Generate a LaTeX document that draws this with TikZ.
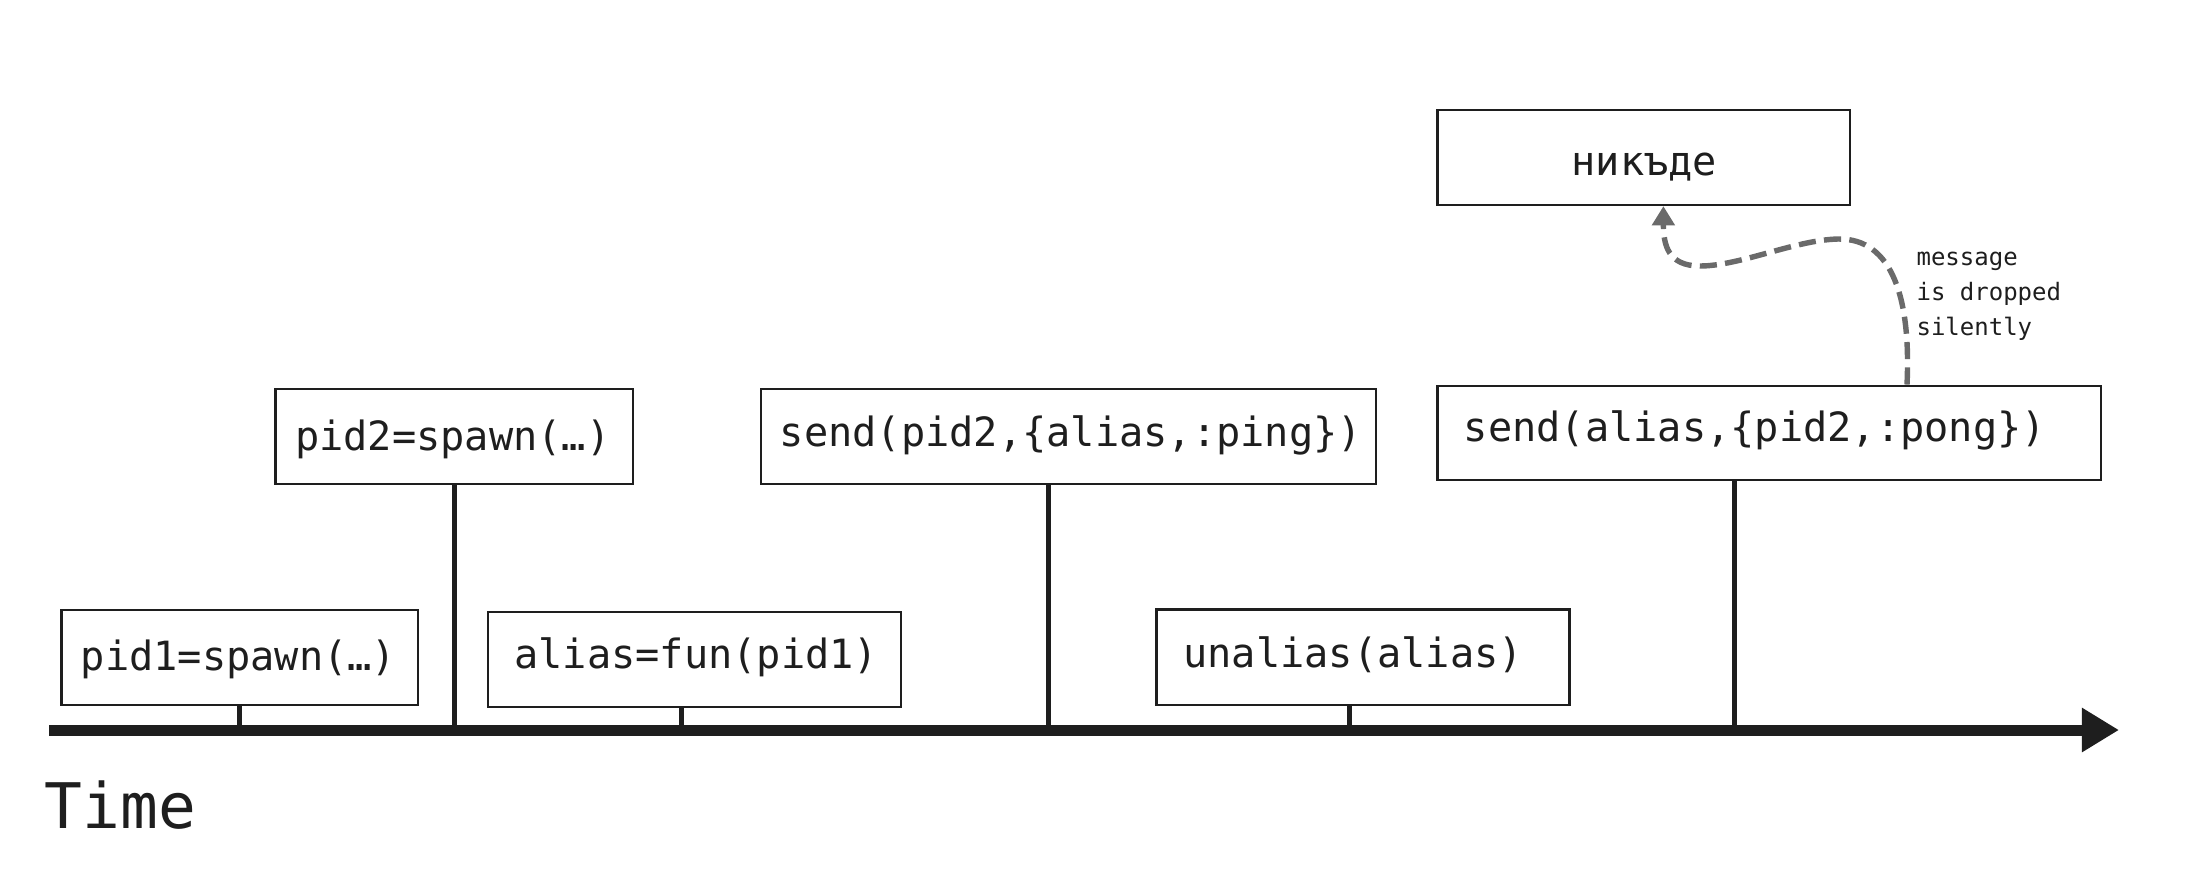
\documentclass[tikz,border=0pt]{standalone}
\usepackage{fontspec}
\setmonofont{DejaVu Sans Mono}
\usetikzlibrary{arrows.meta,fit}
\definecolor{ink}{HTML}{1E1E1E}
\definecolor{msggray}{HTML}{6A6A6A}
\begin{document}
\begin{tikzpicture}[x=0.35pt,y=-0.35pt,
  box/.style={draw=ink,line width=0.8pt,inner sep=0pt},
  lbl/.style={anchor=base,inner sep=0pt,text=ink,font=\ttfamily\fontsize{14.1}{17}\selectfont},
  tickline/.style={draw=ink,line width=1.75pt},
  axisline/.style={draw=ink,line width=3.85pt,-{Triangle[length=13pt,width=14.7pt]}},
  msgline/.style={draw=msggray,line width=1.9pt,dash pattern=on 6pt off 2.9pt,-{Triangle[length=6.7pt,width=7.7pt]}},
  note/.style={anchor=base west,inner sep=0pt,align=left,text=ink,font=\ttfamily\fontsize{8.4}{12.25}\selectfont}]
\useasboundingbox (0,0) rectangle (2208,870);
% axis
\coordinate (axL) at (49,730);
\coordinate (axR) at (2119,730);
% tick positions on the axis
\coordinate (k1) at (239.7,730);
\coordinate (k2) at (454.3,730);
\coordinate (k3) at (681.6,730);
\coordinate (k4) at (1048,730);
\coordinate (k5) at (1349.8,730);
\coordinate (k6) at (1734.5,730);
% boxes
\node[box,fit={(61.6,609.7) (418.3,705)}] (b1) {};
\node[box,fit={(275.4,389) (632.8,484)}] (b2) {};
\node[box,fit={(487.8,612.3) (900.7,706.7)}] (b3) {};
\node[box,fit={(761,389) (1376,484)}] (b4) {};
\node[box,fit={(1156.5,609.5) (1569.5,705)}] (b5) {};
\node[box,fit={(1437.5,385.7) (2101,480)}] (b6) {};
\node[box,fit={(1437.5,109.7) (1850,205)}] (b7) {};
% texts
\node[lbl] (t1) at (238.4,670) {pid1=spawn(…)};
\node[lbl] (t2) at (452.7,450) {pid2=spawn(…)};
\node[lbl] (t3) at (696.2,668.3) {alias=fun(pid1)};
\node[lbl] (t4) at (1071,446.7) {send(pid2,\{alias,:ping\})};
\node[lbl] (t5) at (1353.2,667.3) {unalias(alias)};
\node[lbl] (t6) at (1754.9,441.7) {send(alias,\{pid2,:pong\})};
\node[lbl] (t7) at (1644.4,175) {никъде};
\node[note] (nt) at (1916,335) {message\\is dropped\\silently};
\node[anchor=base west,inner sep=0pt,text=ink,font=\ttfamily\fontsize{22}{26}\selectfont] (time) at (44,828.3) {Time};
% ticks
\draw[tickline] (b1.south -| k1) -- (k1);
\draw[tickline] (b2.south -| k2) -- (k2);
\draw[tickline] (b3.south -| k3) -- (k3);
\draw[tickline] (b4.south -| k4) -- (k4);
\draw[tickline] (b5.south -| k5) -- (k5);
\draw[tickline] (b6.south -| k6) -- (k6);
\draw[axisline] (axL) -- (axR);
% dropped message
\coordinate (cs) at (1907,385.7);
\coordinate (ce) at (1663.4,205);
\draw[msgline] (b6.north -| cs) .. controls (1911,300) and (1893,238) .. (1838,239)
  .. controls (1795,240) and (1740,266) .. (1700,266)
  .. controls (1668,266) and (1663.4,245) .. (b7.south -| ce);
\end{tikzpicture}
\end{document}
